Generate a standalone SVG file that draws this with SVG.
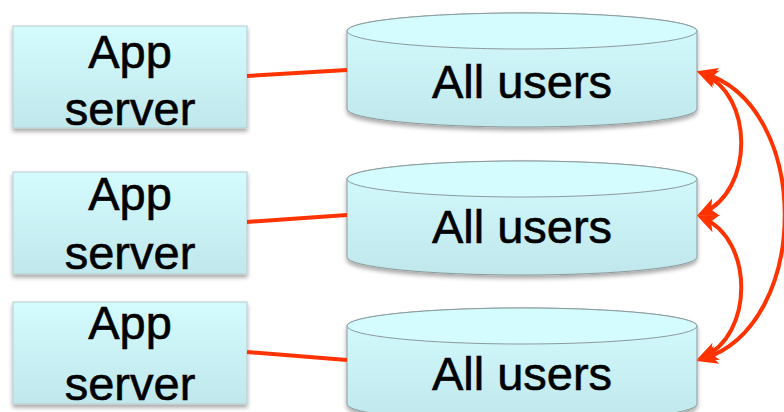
<svg xmlns="http://www.w3.org/2000/svg" width="784" height="412" viewBox="0 0 784 412">
  <defs>
    <linearGradient id="fillGrad" x1="0" y1="0" x2="0" y2="1">
      <stop offset="0" stop-color="#D4FBFE"/>
      <stop offset="1" stop-color="#C0E7EB"/>
    </linearGradient>
    <filter id="shadow" x="-10%" y="-10%" width="120%" height="130%">
      <feDropShadow dx="0" dy="3" stdDeviation="2" flood-color="#000" flood-opacity="0.35"/>
    </filter>
    <marker id="head" viewBox="0 0 20 20" refX="13" refY="10" markerWidth="22" markerHeight="22" markerUnits="userSpaceOnUse" orient="auto-start-reverse">
      <path d="M0,1.5 L19,10 L0,18.5 L5,10 Z" fill="#FF3300"/>
    </marker>
  </defs>
  <style>
    .box { fill: url(#fillGrad); stroke: #B9CBCD; stroke-width: 1; filter: url(#shadow); }
    .cylBody { fill: url(#fillGrad); stroke: #8C9B9D; stroke-width: 1; filter: url(#shadow); }
    .cylTop { fill: #D4FBFE; stroke: #8C9B9D; stroke-width: 1; }
    .lbl { font-family: "Liberation Sans", Arial, Helvetica, sans-serif; font-size: 47px; fill: #000; stroke: #000; stroke-width: 0.6; text-anchor: middle; }
    .link { stroke: #FF3300; stroke-width: 4; fill: none; }
    .arc { stroke: #FF3300; stroke-width: 4; fill: none; marker-start: url(#head); marker-end: url(#head); }
  </style>

  <g id="app1">
    <rect class="box" x="13" y="26" width="234" height="102"/>
    <text class="lbl" x="130" y="68">App</text>
    <text class="lbl" x="130" y="125">server</text>
  </g>
  <g id="app2">
    <rect class="box" x="13" y="172" width="234" height="102"/>
    <text class="lbl" x="130" y="210">App</text>
    <text class="lbl" x="130" y="269">server</text>
  </g>
  <g id="app3">
    <rect class="box" x="13" y="302" width="234" height="102"/>
    <text class="lbl" x="130" y="339">App</text>
    <text class="lbl" x="130" y="400">server</text>
  </g>

  <g id="db1">
    <path class="cylBody" d="M347,31 V109 A175,18 0 0 0 697,109 V31 A175,18 0 0 0 347,31 Z"/>
    <ellipse class="cylTop" cx="522" cy="31" rx="175" ry="18"/>
    <text class="lbl" x="522" y="98">All users</text>
  </g>
  <g id="db2">
    <path class="cylBody" d="M347,179 V257 A175,18 0 0 0 697,257 V179 A175,18 0 0 0 347,179 Z"/>
    <ellipse class="cylTop" cx="522" cy="179" rx="175" ry="18"/>
    <text class="lbl" x="522" y="243">All users</text>
  </g>
  <g id="db3">
    <path class="cylBody" d="M347,326 V404 A175,18 0 0 0 697,404 V326 A175,18 0 0 0 347,326 Z"/>
    <ellipse class="cylTop" cx="522" cy="326" rx="175" ry="18"/>
    <text class="lbl" x="522" y="390">All users</text>
  </g>

  <g id="connectors">
    <line class="link" x1="247" y1="76" x2="347" y2="70"/>
    <line class="link" x1="247" y1="222" x2="347" y2="215"/>
    <line class="link" x1="247" y1="352" x2="347" y2="360"/>
    <path class="arc" d="M703,74 C754,95 754,190 703,213"/>
    <path class="arc" d="M703,218 C754,240 754,335 703,357"/>
    <path class="arc" d="M703,73 C812,105 812,325 703,359"/>
  </g>
</svg>
